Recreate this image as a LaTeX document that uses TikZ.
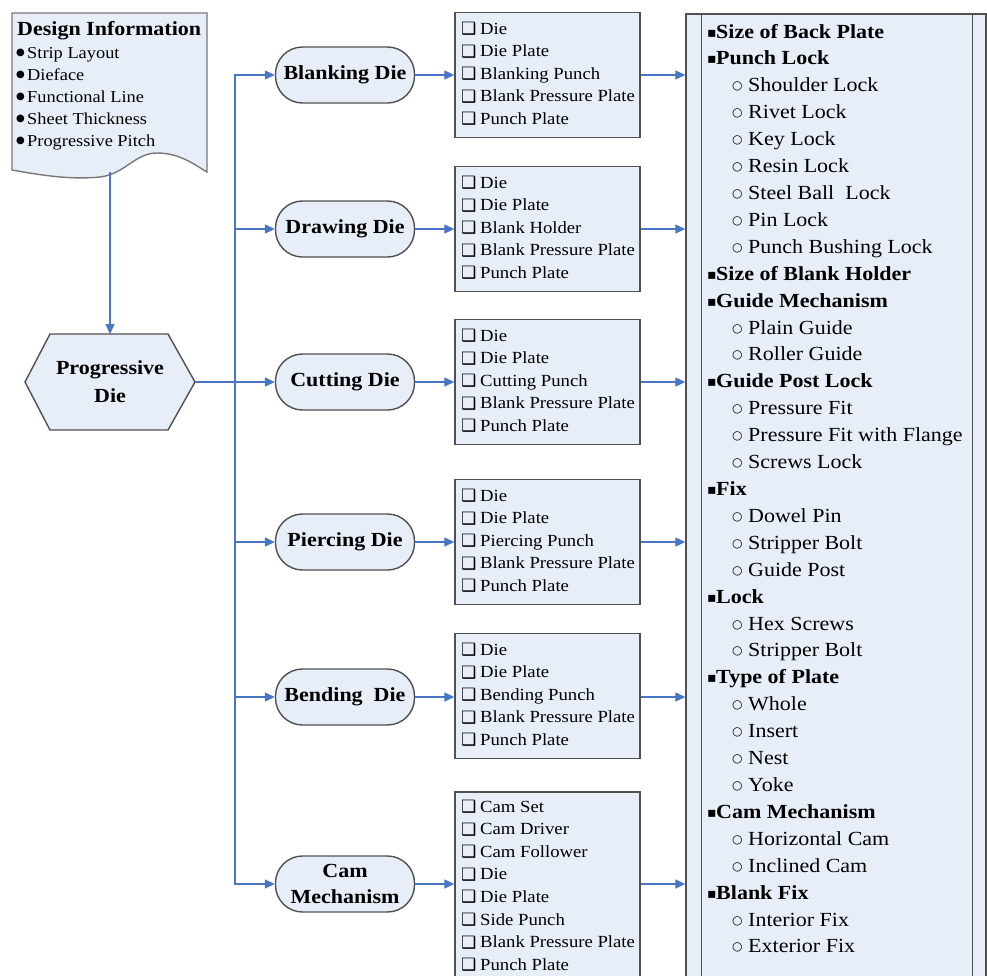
\documentclass[tikz,border=0pt]{standalone}
\usepackage{fontspec}
\setmainfont{Liberation Serif}[FakeStretch=1.1]
\newfontfamily\djv{DejaVu Sans}
\usetikzlibrary{arrows.meta}
\definecolor{fillc}{RGB}{232,238,248}
\definecolor{edgec}{RGB}{80,80,80}
\definecolor{docedge}{RGB}{120,120,120}
\definecolor{arrc}{RGB}{72,118,196}
\newcommand{\fsz}[1]{\fontsize{#1}{#1}\selectfont}
\newcommand{\mychk}{\makebox[19pt][l]{\raisebox{-0.5pt}{\djv\fsz{17}❑}}}
\tikzset{
  shp/.style={draw=edgec, fill=fillc, line width=1.4pt},
  diebox/.style={shp, rounded corners=27pt, minimum width=139pt, minimum height=56pt, inner sep=0pt,
    font=\fontsize{20}{26}\selectfont\bfseries, align=center},
  listbox/.style={shp, minimum width=185pt, minimum height=125pt, inner sep=0pt},
  ghost/.style={inner sep=0pt, outer sep=0pt},
  arr/.style={draw=arrc, line width=1.3pt, -{Triangle[length=10pt,width=9pt]}},
  ltxt/.style={anchor=base west, inner sep=0pt, font=\fsz{17}},
  ptxt/.style={anchor=base west, inner sep=0pt, font=\fsz{20}},
  dtxt/.style={anchor=base west, inner sep=0pt, font=\fsz{16.7}},
}
\begin{document}
\begin{tikzpicture}[x=1pt,y=-1pt]
\useasboundingbox (0,0) rectangle (987,975);
\fill[white] (0,0) rectangle (987,975);
\clip (0,0) rectangle (987,975);

% ---------- design information (document shape)
\node[ghost, minimum width=195pt, minimum height=159pt] (doc) at (110,92.5) {};
\draw[shp, draw=docedge] (12,13) -- (207,13) -- (207,172)
  .. controls (195,165) and (180,153) .. (157,153)
  .. controls (135,153) and (125,174) .. (100,177)
  .. controls (70,180) and (40,175) .. (12,170) -- cycle;
\node[anchor=base west, inner sep=0pt, font=\fsz{20}\bfseries] (dtitle) at (17,35) {Design Information};
\foreach \s [count=\i] in {Strip Layout, Dieface, Functional Line, Sheet Thickness, Progressive Pitch}
  \node[dtxt] (d\i) at (16,{58+22*(\i-1)}) {\makebox[11pt][l]{\raisebox{2.5pt}{\djv\fsz{10}●}}\s};

% ---------- progressive die (hexagon)
\node[ghost, minimum width=170pt, minimum height=96pt] (hex) at (110,382) {};
\draw[shp] (25,382) -- (50,334) -- (168,334) -- (195,382) -- (168,430) -- (50,430) -- cycle;
\node[ghost, font=\fontsize{20}{28}\selectfont\bfseries, align=center] (hext) at (110,382) {Progressive\\Die};

% ---------- right panel
\node[shp, minimum width=300pt, minimum height=987pt, inner sep=0pt] (panel) at (836,507.5) {};
\draw[draw=edgec, line width=1.4pt] ([xshift=16pt]panel.north west) -- ([xshift=16pt]panel.south west);
\draw[draw=edgec, line width=1.4pt] ([xshift=-14pt]panel.north east) -- ([xshift=-14pt]panel.south east);
\foreach \k/\s [count=\i] in {h/Size of Back Plate, h/Punch Lock, s/Shoulder Lock, s/Rivet Lock, s/Key Lock,
  s/Resin Lock, s/Steel Ball\ \ Lock, s/Pin Lock, s/Punch Bushing Lock, h/Size of Blank Holder,
  h/Guide Mechanism, s/Plain Guide, s/Roller Guide, h/Guide Post Lock, s/Pressure Fit,
  s/Pressure Fit with Flange, s/Screws Lock, h/Fix, s/Dowel Pin, s/Stripper Bolt, s/Guide Post,
  h/Lock, s/Hex Screws, s/Stripper Bolt, h/Type of Plate, s/Whole, s/Insert, s/Nest, s/Yoke,
  h/Cam Mechanism, s/Horizontal Cam, s/Inclined Cam, h/Blank Fix, s/Interior Fix, s/Exterior Fix}{
  \if\k h
    \node[ptxt] (p\i) at (707,{38+26.91*(\i-1)}) {\makebox[9pt][l]{\raisebox{1pt}{\djv\fsz{14}▪}}\textbf{\s}};
  \else
    \node[ptxt] (p\i) at (732,{38+26.91*(\i-1)}) {\makebox[16pt][l]{\raisebox{2pt}{\djv\fsz{12}○}}\s};
  \fi
}

% ---------- die nodes
\node[diebox] (blank) at (345,75) {Blanking Die};
\node[diebox] (draw)  at (345,229) {Drawing Die};
\node[diebox] (cut)   at (345,382) {Cutting Die};
\node[diebox] (pierce) at (345,542) {Piercing Die};
\node[diebox] (bend)  at (345,697) {Bending\ \ Die};
\node[diebox] (cam)   at (345,884) {Cam\\Mechanism};

% ---------- list boxes
\node[listbox] (L1) at (547.5,75) {};
\foreach \s [count=\i] in {Die, Die Plate, Blanking Punch, Blank Pressure Plate, Punch Plate}
  \node[ltxt] (L1t\i) at (461,{75-63.5+22.5*\i}) {\mychk\s};
\node[listbox] (L2) at (547.5,229) {};
\foreach \s [count=\i] in {Die, Die Plate, Blank Holder, Blank Pressure Plate, Punch Plate}
  \node[ltxt] (L2t\i) at (461,{229-63.5+22.5*\i}) {\mychk\s};
\node[listbox] (L3) at (547.5,382) {};
\foreach \s [count=\i] in {Die, Die Plate, Cutting Punch, Blank Pressure Plate, Punch Plate}
  \node[ltxt] (L3t\i) at (461,{382-63.5+22.5*\i}) {\mychk\s};
\node[listbox] (L4) at (547.5,542) {};
\foreach \s [count=\i] in {Die, Die Plate, Piercing Punch, Blank Pressure Plate, Punch Plate}
  \node[ltxt] (L4t\i) at (461,{542-63.5+22.5*\i}) {\mychk\s};
\node[listbox] (L5) at (547.5,696) {};
\foreach \s [count=\i] in {Die, Die Plate, Bending Punch, Blank Pressure Plate, Punch Plate}
  \node[ltxt] (L5t\i) at (461,{696-63.5+22.5*\i}) {\mychk\s};
\node[listbox, minimum height=200pt] (L6) at (547.5,892) {};
\foreach \s [count=\i] in {Cam Set, Cam Driver, Cam Follower, Die, Die Plate, Side Punch, Blank Pressure Plate, Punch Plate}
  \node[ltxt] (L6t\i) at (461,{789.4+22.6*\i}) {\mychk\s};

% ---------- connectors
\draw[arr] (doc.south) -- (hex.north);
\draw[arr] (hex.east) -- (cut.west);
\coordinate (tr) at (235,382);
\draw[arr] (tr) |- (blank.west);
\draw[arr] (tr) |- (draw.west);
\draw[arr] (tr) |- (pierce.west);
\draw[arr] (tr) |- (bend.west);
\draw[arr] (tr) |- (cam.west);
\foreach \a/\b in {blank/L1, draw/L2, cut/L3, pierce/L4, bend/L5, cam/L6}{
  \draw[arr] (\a.east) -- (\a.east -| \b.west);
  \draw[arr] (\a.east -| \b.east) -- (\a.east -| panel.west);
}
\end{tikzpicture}
\end{document}
